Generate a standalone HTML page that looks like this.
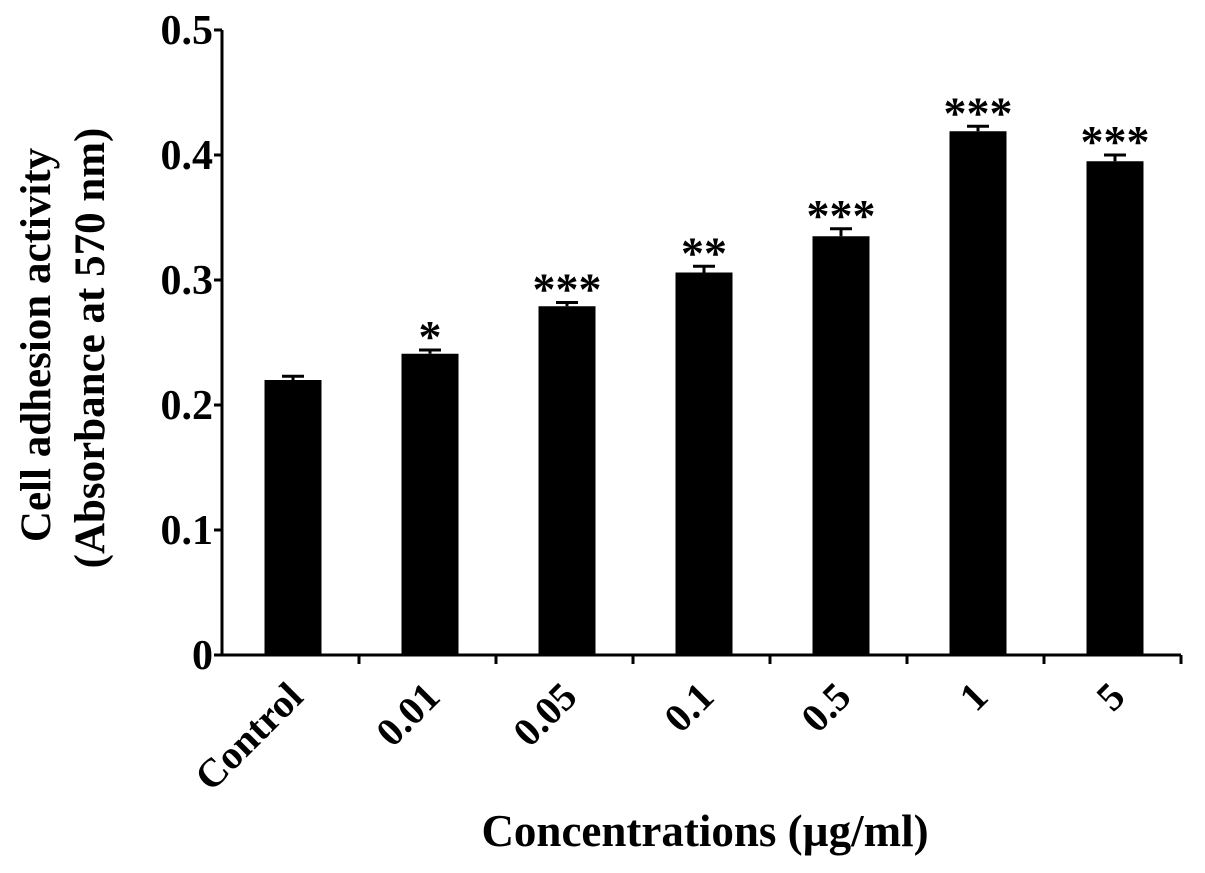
<!DOCTYPE html>
<html><head><meta charset="utf-8"><style>
body{margin:0;background:#fff;}
svg text{font-family:"Liberation Serif",serif;font-weight:bold;fill:#000;}
</style></head><body>
<svg id="chart" width="1205" height="868" viewBox="0 0 1205 868">
<g id="plot"></g>
<text x="705" y="846" font-size="45" text-anchor="middle">Concentrations (µg/ml)</text>
<text transform="translate(50,345) rotate(-90)" font-size="43" text-anchor="middle">Cell adhesion activity</text>
<text transform="translate(104,348) rotate(-90)" font-size="43" text-anchor="middle">(Absorbance at 570 nm)</text>
</svg>
<script>
const categories=["Control","0.01","0.05","0.1","0.5","1","5"];
const values=[0.220,0.241,0.279,0.306,0.335,0.419,0.395];
const errors=[0.003,0.003,0.003,0.005,0.006,0.004,0.005];
const stars=["","*","***","**","***","***","***"];
const yTicks=[0,0.1,0.2,0.3,0.4,0.5];
const yTickLabels=["0","0.1","0.2","0.3","0.4","0.5"];
const NS="http://www.w3.org/2000/svg";
const g=document.getElementById('plot');
const x0=222,y0=655,step=137,barW=57,yMax=0.5,yTop=30;
const ys=v=>y0-(v/yMax)*(y0-yTop);
const xc=i=>x0+step*(i+0.5)+2.5;
function el(t,a){const e=document.createElementNS(NS,t);for(const k in a)e.setAttribute(k,a[k]);g.appendChild(e);return e;}
let ax=el('line',{x1:x0,y1:yTop,x2:x0,y2:y0+1.5,stroke:'#000','stroke-width':3});


let bx=el('line',{x1:x0-1.5,y1:y0,x2:x0+step*categories.length,y2:y0,stroke:'#000','stroke-width':3});


yTicks.forEach((v,i)=>{
 const t=el('line',{x1:x0-8,y1:ys(v),x2:x0,y2:ys(v),stroke:'#000','stroke-width':3});
 
 
 const l=el('text',{x:x0-9,y:ys(v)+14,'font-size':42,'text-anchor':'end'});
 l.textContent=yTickLabels[i];
 
 
});
for(let i=1;i<=categories.length;i++){
 const t=el('line',{x1:x0+step*i,y1:y0,x2:x0+step*i,y2:y0+9,stroke:'#000','stroke-width':3});
 
 
}
categories.forEach((c,i)=>{
 const cx=xc(i),v=values[i],e=errors[i];
 const b=el('rect',{x:cx-barW/2,y:ys(v),width:barW,height:y0-ys(v),fill:'#000'});
 
 
 const eb=el('path',{d:`M${cx} ${ys(v)} V${ys(v+e)} M${cx-11} ${ys(v+e)} H${cx+11}`,stroke:'#000','stroke-width':3,fill:'none'});
 
 
 if(stars[i]){
  const s=el('text',{x:cx,y:ys(v+e)+2,'font-size':46,'text-anchor':'middle'});
  s.textContent=stars[i];
  
  
 }
 const l=el('text',{transform:`translate(${cx+12},${y0+44}) rotate(-45)`,'font-size':40,'text-anchor':'end'});
 l.textContent=c;
 
 
});
</script>
</body></html>
